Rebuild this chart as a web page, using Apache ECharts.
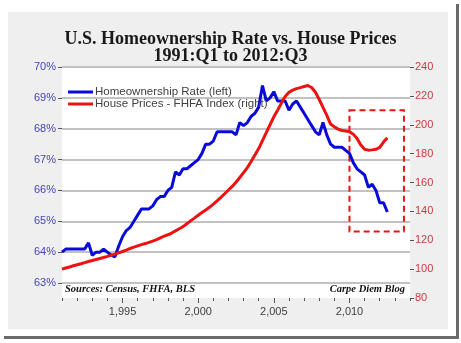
<!DOCTYPE html>
<html>
<head>
<meta charset="utf-8">
<script src="https://cdn.jsdelivr.net/npm/echarts@6/dist/echarts.min.js"></script>
<style>html,body{margin:0;padding:0;background:#fff;}#c{width:461px;height:343px;}</style>
</head>
<body>
<div id="c"></div>
<script>
// Quarterly data, 1991:Q1 .. 2012:Q3
const startYear = 1991;
const homeownershipRate = [
  64.0,64.1,64.1,64.1,
  64.1,64.1,64.1,64.3,
  63.9,64.0,64.0,64.1,
  64.0,63.9,63.85,64.2,
  64.5,64.7,64.8,65.0,
  65.2,65.4,65.4,65.4,
  65.5,65.7,65.8,65.8,
  66.0,66.1,66.6,66.5,
  66.7,66.7,66.8,66.9,
  67.0,67.2,67.5,67.5,
  67.6,67.9,67.9,67.9,
  67.9,67.9,67.8,68.2,
  68.1,68.2,68.4,68.5,
  68.7,69.4,68.9,69.0,
  69.2,68.9,68.9,68.9,
  68.6,68.8,68.9,68.7,
  68.5,68.3,68.1,67.9,
  67.8,68.2,67.8,67.5,
  67.4,67.4,67.4,67.3,
  67.2,66.9,66.7,66.6,
  66.5,66.1,66.2,66.0,
  65.6,65.6,65.3
];
const housePrices = [
  100,100.8,101.5,102.3,
  103,103.7,104.5,105.3,
  106,106.7,107.4,108.1,
  108.8,109.6,110.4,111.3,
  112.2,113.2,114.3,115.2,
  116.1,117,117.7,118.5,
  119.4,120.5,121.7,122.8,
  123.8,125,126.5,128,
  129.4,131.4,133.4,135.3,
  137.3,139.2,141,142.8,
  145,147.3,149.7,152.2,
  154.8,157.3,160.2,163.5,
  166.8,170.3,174.5,179,
  183.5,189,194.5,200,
  205.5,210,215,219.5,
  222.5,224,225,225.7,
  226.5,227.2,225.8,222.5,
  217.5,212,206.5,200.5,
  198.5,197,196,195.7,
  195.2,193.5,190.5,186,
  183,182.4,182.6,183,
  184.3,188,191
];
const xLabelYears = [1995, 2000, 2005, 2010];
const xRange = [1991, 2014];
const leftTicks = [63, 64, 65, 66, 67, 68, 69, 70];
const rightTicks = [80, 100, 120, 140, 160, 180, 200, 220, 240];
const seriesNames = ['Homeownership Rate (left)', 'House Prices - FHFA Index (right)'];
const titleText = 'U.S. Homeownership Rate vs. House Prices\n1991:Q1 to 2012:Q3';
const highlightBox = { x: [2010, 2013.6], y: [126, 210] };

const toPoints = arr => arr.map((v, i) => [startYear + i / 4, v]);
const sans = "'Liberation Sans', Arial, sans-serif";
const serif = "'Liberation Serif', 'DejaVu Serif', serif";

const chart = echarts.init(document.getElementById('c'));
chart.setOption({
  backgroundColor: '#ffffff',
  animation: false,
  title: {
    text: titleText,
    left: 'center',
    top: 31,
    padding: 0,
    textStyle: { fontFamily: serif, fontWeight: 'bold', fontSize: 18, lineHeight: 17, color: '#1a1a1a' }
  },
  legend: {
    orient: 'vertical',
    left: 68,
    top: 86,
    padding: 0,
    itemGap: 0,
    itemWidth: 25,
    itemHeight: 3,
    icon: 'rect',
    data: seriesNames,
    textStyle: { fontFamily: sans, fontSize: 11.5, color: '#404040', lineHeight: 11, padding: [0, 0, 0, -3] }
  },
  grid: [
    { left: 62, right: 51, top: 67, bottom: 60, show: false },
    { left: 62, right: 51, top: 67, bottom: 45, show: false }
  ],
  xAxis: [
    { type: 'value', gridIndex: 0, min: xRange[0], max: xRange[1], show: false },
    { type: 'value', gridIndex: 1, min: xRange[0], max: xRange[1], interval: 1,
      axisLine: { show: false }, splitLine: { show: false },
      axisTick: { show: true, length: 3, lineStyle: { color: '#555' } },
      axisLabel: { show: false } },
    { type: 'value', gridIndex: 1, min: xRange[0], max: xRange[1], position: 'bottom',
      axisLine: { show: false }, splitLine: { show: false },
      axisTick: { show: true, length: 5, customValues: xLabelYears, lineStyle: { color: '#555' } },
      axisLabel: { customValues: xLabelYears, fontFamily: sans, fontSize: 11, color: '#404040', margin: 8 } }
  ],
  yAxis: [
    { type: 'value', gridIndex: 0, min: leftTicks[0], max: leftTicks[leftTicks.length - 1], interval: 1,
      axisLine: { show: false },
      axisTick: { show: true, length: 4, lineStyle: { color: '#555' } },
      splitLine: { show: true, lineStyle: { color: '#c2c2c2', width: 2 } },
      axisLabel: { formatter: '{value}%', fontFamily: sans, fontSize: 11, color: '#4545b5', margin: 6 } },
    { type: 'value', gridIndex: 1, position: 'right', min: rightTicks[0], max: rightTicks[rightTicks.length - 1], interval: 20,
      axisLine: { show: false },
      axisTick: { show: true, length: 4, lineStyle: { color: '#555' } },
      splitLine: { show: false },
      axisLabel: { fontFamily: sans, fontSize: 11, color: '#cc3b3b', margin: 5 } }
  ],
  series: [
    { name: seriesNames[0], type: 'line', xAxisIndex: 0, yAxisIndex: 0, data: toPoints(homeownershipRate),
      showSymbol: false, lineStyle: { color: '#0a0ad8', width: 3 }, itemStyle: { color: '#0a0ad8' }, z: 3 },
    { name: seriesNames[1], type: 'line', xAxisIndex: 1, yAxisIndex: 1, data: toPoints(housePrices),
      showSymbol: false, lineStyle: { color: '#ee1111', width: 3 }, itemStyle: { color: '#ee1111' }, z: 4,
      markArea: { silent: true,
        itemStyle: { color: 'rgba(0,0,0,0)', borderColor: '#ee1111', borderWidth: 2, borderType: [6, 4] },
        data: [[{ coord: [highlightBox.x[0], highlightBox.y[1]] }, { coord: [highlightBox.x[1], highlightBox.y[0]] }]] } }
  ]
});
// Gray panel drawn as a frame around the white plot area (plot rect derived from the axes)
const tl = chart.convertToPixel({ xAxisIndex: 1, yAxisIndex: 1 }, [xRange[0], rightTicks[rightTicks.length - 1]]);
const br = chart.convertToPixel({ xAxisIndex: 1, yAxisIndex: 1 }, [xRange[1], rightTicks[0]]);
const P = { x0: 8, y0: 12, x1: 448, y1: 329 };
const fillGray = { fill: '#efefef' };
chart.setOption({
  graphic: [
    { id: 'pT', type: 'rect', z: -10, shape: { x: P.x0, y: P.y0, width: P.x1 - P.x0, height: tl[1] - P.y0 }, style: fillGray },
    { id: 'pB', type: 'rect', z: -10, shape: { x: P.x0, y: br[1], width: P.x1 - P.x0, height: P.y1 - br[1] }, style: fillGray },
    { id: 'pL', type: 'rect', z: -10, shape: { x: P.x0, y: tl[1], width: tl[0] - P.x0, height: br[1] - tl[1] }, style: fillGray },
    { id: 'pR', type: 'rect', z: -10, shape: { x: br[0], y: tl[1], width: P.x1 - br[0], height: br[1] - tl[1] }, style: fillGray },
    { id: 'shadowR', type: 'rect', z: -10, shape: { x: 456, y: 4, width: 3, height: 335 }, style: { fill: '#6a6a6a' } },
    { id: 'shadowB', type: 'rect', z: -10, shape: { x: 4, y: 336, width: 455, height: 3 }, style: { fill: '#6a6a6a' } },
    { id: 'src', type: 'text', z: 50, left: 65, top: 284, style: { text: 'Sources: Census, FHFA, BLS', font: "italic bold 10.5px " + serif, fill: '#111' } },
    { id: 'blog', type: 'text', z: 50, right: 56, top: 284, style: { text: 'Carpe Diem Blog', font: "italic bold 10.5px " + serif, fill: '#111' } }
  ]
});
</script>
</body>
</html>
